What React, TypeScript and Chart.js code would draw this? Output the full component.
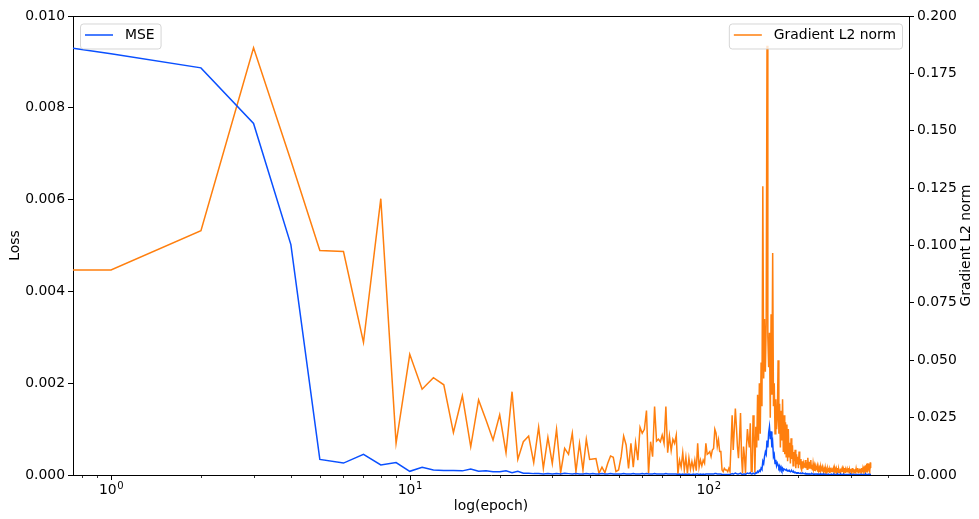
import React, { useEffect, useRef } from 'react';
import { Chart, registerables } from 'chart.js';

Chart.register(...registerables);

// Training loss per epoch (left axis)
const mseLoss = [
  0.00930, 0.00918, 0.00887, 0.00766, 0.00502, 0.00034, 0.00026, 0.00045, 0.00022, 0.00027,
  0.00008, 0.00017, 0.00011, 0.00010, 0.00010, 0.00009, 0.00013, 0.00008, 0.00009, 0.00007,
  0.00007, 0.00009, 0.00005, 0.00008, 0.00004, 0.00004, 0.00003, 0.00003, 0.00002, 0.00003,
  0.00002, 0.00003, 0.00002, 0.00004, 0.00003, 0.00002, 0.00003, 0.00002, 0.00002, 0.00003,
  0.00002, 0.00003, 0.00002, 0.00002, 0.00003, 0.00002, 0.00002, 0.00003, 0.00002, 0.00002,
  0.00002, 0.00002, 0.00003, 0.00002, 0.00002, 0.00002, 0.00003, 0.00002, 0.00002, 0.00002,
  0.00003, 0.00002, 0.00003, 0.00002, 0.00002, 0.00002, 0.00003, 0.00002, 0.00002, 0.00002,
  0.00002, 0.00002, 0.00003, 0.00002, 0.00002, 0.00002, 0.00002, 0.00002, 0.00002, 0.00001,
  0.00002, 0.00001, 0.00002, 0.00001, 0.00002, 0.00001, 0.00002, 0.00001, 0.00001, 0.00002,
  0.00001, 0.00002, 0.00002, 0.00001, 0.00002, 0.00001, 0.00002, 0.00001, 0.00002, 0.00002,
  0.00002, 0.00002, 0.00002, 0.00002, 0.00002, 0.00003, 0.00003, 0.00002, 0.00002, 0.00002,
  0.00002, 0.00001, 0.00001, 0.00001, 0.00001, 0.00001, 0.00001, 0.00001, 0.00001, 0.00002,
  0.00003, 0.00002, 0.00003, 0.00004, 0.00003, 0.00002, 0.00002, 0.00003, 0.00004, 0.00002,
  0.00001, 0.00002, 0.00002, 0.00001, 0.00003, 0.00004, 0.00003, 0.00003, 0.00005, 0.00002,
  0.00002, 0.00004, 0.00004, 0.00002, 0.00005, 0.00004, 0.00008, 0.00006, 0.00010, 0.00008,
  0.00015, 0.00012, 0.00030, 0.00025, 0.00040, 0.00050, 0.00045, 0.00075, 0.00060, 0.00092,
  0.00105, 0.00078, 0.00095, 0.00060, 0.00070, 0.00040, 0.00045, 0.00025, 0.00033, 0.00020,
  0.00026, 0.00022, 0.00016, 0.00020, 0.00012, 0.00017, 0.00011, 0.00015, 0.00010, 0.00013,
  0.00012, 0.00011, 0.00010, 0.00011, 0.00009, 0.00010, 0.00008, 0.00009, 0.00007, 0.00008,
  0.00009, 0.00007, 0.00006, 0.00007, 0.00005, 0.00006, 0.00005, 0.00005, 0.00004, 0.00005,
  0.00005, 0.00004, 0.00004, 0.00003, 0.00004, 0.00003, 0.00003, 0.00004, 0.00003, 0.00003,
  0.00003, 0.00002, 0.00003, 0.00002, 0.00003, 0.00002, 0.00002, 0.00003, 0.00002, 0.00002,
  0.00002, 0.00002, 0.00003, 0.00002, 0.00002, 0.00002, 0.00001, 0.00002, 0.00002, 0.00002,
  0.00002, 0.00001, 0.00002, 0.00002, 0.00001, 0.00002, 0.00002, 0.00001, 0.00002, 0.00001,
  0.00002, 0.00001, 0.00001, 0.00002, 0.00001, 0.00001, 0.00002, 0.00001, 0.00001, 0.00001,
  0.00001, 0.00001, 0.00002, 0.00001, 0.00001, 0.00001, 0.00001, 0.00001, 0.00002, 0.00001,
  0.00001, 0.00001, 0.00001, 0.00002, 0.00001, 0.00001, 0.00001, 0.00001, 0.00001, 0.00001,
  0.00001, 0.00002, 0.00001, 0.00001, 0.00001, 0.00001, 0.00001, 0.00002, 0.00001, 0.00001,
  0.00001, 0.00001, 0.00001, 0.00001, 0.00002, 0.00001, 0.00001, 0.00001, 0.00001, 0.00001,
  0.00001, 0.00001, 0.00002, 0.00001, 0.00001, 0.00001, 0.00001, 0.00001, 0.00001, 0.00002,
  0.00001, 0.00001, 0.00001, 0.00001, 0.00001, 0.00002, 0.00001, 0.00001, 0.00001, 0.00001,
  0.00001, 0.00001, 0.00001, 0.00002, 0.00001, 0.00001, 0.00001, 0.00001, 0.00001, 0.00001,
  0.00001, 0.00001, 0.00001, 0.00001, 0.00002, 0.00001, 0.00001, 0.00001, 0.00001, 0.00001,
  0.00002, 0.00001, 0.00001, 0.00001, 0.00001, 0.00001, 0.00002, 0.00001, 0.00001, 0.00001,
  0.00001, 0.00001, 0.00001, 0.00001, 0.00001, 0.00002, 0.00001, 0.00001, 0.00001, 0.00001,
  0.00001,
];

// L2 norm of the gradient per epoch (right axis)
const gradNorm = [
  0.0893, 0.0893, 0.1064, 0.1862, 0.1370, 0.0978, 0.0974, 0.0578, 0.1204, 0.0138,
  0.0526, 0.0374, 0.0424, 0.0393, 0.0185, 0.0345, 0.0123, 0.0327, 0.0240, 0.0153,
  0.0262, 0.0097, 0.0363, 0.0068, 0.0145, 0.0170, 0.0054, 0.0208, 0.0029, 0.0164,
  0.0050, 0.0199, 0.0010, 0.0116, 0.0090, 0.0182, 0.0015, 0.0138, 0.0022, 0.0156,
  0.0068, 0.0070, 0.0072, 0.0007, 0.0034, 0.0010, 0.0051, 0.0083, 0.0077, 0.0015,
  0.0022, 0.0080, 0.0170, 0.0131, 0.0029, 0.0138, 0.0034, 0.0141, 0.0065, 0.0208,
  0.0182, 0.0199, 0.0281, 0.0007, 0.0145, 0.0080, 0.0298, 0.0148, 0.0156, 0.0145,
  0.0174, 0.0138, 0.0298, 0.0097, 0.0170, 0.0106, 0.0156, 0.0138, 0.0174, 0.0005,
  0.0065, 0.0034, 0.0097, 0.0022, 0.0077, 0.0007, 0.0073, 0.0025, 0.0058, 0.0025,
  0.0065, 0.0019, 0.0138, 0.0034, 0.0065, 0.0040, 0.0065, 0.0051, 0.0138, 0.0090,
  0.0095, 0.0102, 0.0080, 0.0109, 0.0116, 0.0199, 0.0182, 0.0124, 0.0153, 0.0102,
  0.0102, 0.0022, 0.0015, 0.0029, 0.0022, 0.0022, 0.0015, 0.0029, 0.0015, 0.0138,
  0.0260, 0.0109, 0.0196, 0.0290, 0.0211, 0.0124, 0.0073, 0.0160, 0.0270, 0.0080,
  0.0007, 0.0124, 0.0080, 0.0007, 0.0124, 0.0200, 0.0153, 0.0120, 0.0225, 0.0015,
  0.0015, 0.0260, 0.0180, 0.0010, 0.0210, 0.0120, 0.0350, 0.0150, 0.0400, 0.0180,
  0.0490, 0.0300, 0.1258, 0.0420, 0.0680, 0.0450, 0.0660, 0.1870, 0.0600, 0.0470,
  0.0620, 0.0250, 0.0700, 0.0350, 0.0967, 0.0300, 0.0400, 0.0180, 0.0330, 0.0200,
  0.0250, 0.0500, 0.0180, 0.0310, 0.0120, 0.0280, 0.0150, 0.0330, 0.0100, 0.0260,
  0.0090, 0.0230, 0.0080, 0.0220, 0.0060, 0.0200, 0.0080, 0.0140, 0.0050, 0.0160,
  0.0070, 0.0130, 0.0040, 0.0100, 0.0060, 0.0110, 0.0030, 0.0090, 0.0050, 0.0080,
  0.0030, 0.0102, 0.0045, 0.0070, 0.0030, 0.0022, 0.0060, 0.0028, 0.0050, 0.0035,
  0.0036, 0.0065, 0.0030, 0.0055, 0.0025, 0.0075, 0.0040, 0.0030, 0.0058, 0.0032,
  0.0065, 0.0028, 0.0045, 0.0020, 0.0050, 0.0030, 0.0042, 0.0018, 0.0038, 0.0025,
  0.0029, 0.0040, 0.0015, 0.0035, 0.0022, 0.0030, 0.0012, 0.0036, 0.0020, 0.0028,
  0.0036, 0.0015, 0.0030, 0.0020, 0.0026, 0.0012, 0.0032, 0.0018, 0.0025, 0.0010,
  0.0015, 0.0028, 0.0020, 0.0030, 0.0012, 0.0025, 0.0018, 0.0032, 0.0015, 0.0022,
  0.0025, 0.0012, 0.0028, 0.0018, 0.0030, 0.0010, 0.0024, 0.0016, 0.0027, 0.0014,
  0.0022, 0.0030, 0.0012, 0.0026, 0.0018, 0.0024, 0.0010, 0.0028, 0.0016, 0.0022,
  0.0029, 0.0014, 0.0024, 0.0010, 0.0026, 0.0018, 0.0030, 0.0012, 0.0022, 0.0016,
  0.0022, 0.0028, 0.0012, 0.0025, 0.0016, 0.0030, 0.0010, 0.0024, 0.0018, 0.0026,
  0.0015, 0.0028, 0.0012, 0.0022, 0.0030, 0.0014, 0.0026, 0.0010, 0.0024, 0.0018,
  0.0022, 0.0016, 0.0028, 0.0012, 0.0025, 0.0019, 0.0030, 0.0011, 0.0024, 0.0017,
  0.0022, 0.0028, 0.0014, 0.0026, 0.0010, 0.0030, 0.0018, 0.0024, 0.0012, 0.0028,
  0.0036, 0.0016, 0.0030, 0.0020, 0.0038, 0.0014, 0.0042, 0.0022, 0.0048, 0.0018,
  0.0051, 0.0012, 0.0045, 0.0020, 0.0050, 0.0025, 0.0040, 0.0015, 0.0055, 0.0030,
  0.0029,
];

// Epoch index for each entry; epoch 0 sits at the left edge of the log axis
const epochs = mseLoss.map((_, i) => i);

// Axis ranges and ticks
const xRange = [0.746, 469];
const xMajorTicks = [1, 10, 100];
const xMajorExponents = ['0', '1', '2'];
const xMinorTicks = [0.8, 0.9, 2, 3, 4, 5, 6, 7, 8, 9, 20, 30, 40, 50, 60, 70, 80, 90, 200, 300, 400];
const lossRange = [0, 0.01];
const lossStep = 0.002;
const gradRange = [0, 0.2];
const gradStep = 0.025;

const BLUE = '#0a50ff';
const ORANGE = '#ff7f0e';
const FONT = 'DejaVu Sans';
const FS = 13.9;

function drawLegend(ctx: CanvasRenderingContext2D, x: number, y: number, color: string, label: string, anchorRight: boolean) {
  ctx.font = `${FS}px "${FONT}"`;
  const tw = ctx.measureText(label).width;
  const w = 45 + tw + 6;
  const h = 25;
  const left = anchorRight ? x - w : x;
  ctx.save();
  ctx.beginPath();
  ctx.roundRect(left + 0.5, y + 0.5, w, h, 3);
  ctx.fillStyle = 'rgba(255,255,255,0.8)';
  ctx.fill();
  ctx.strokeStyle = 'rgba(204,204,204,0.8)';
  ctx.lineWidth = 1;
  ctx.stroke();
  const cy = y + 11.5;
  ctx.beginPath();
  ctx.moveTo(left + 5, cy);
  ctx.lineTo(left + 33, cy);
  ctx.strokeStyle = color;
  ctx.lineWidth = 1.5;
  ctx.stroke();
  ctx.fillStyle = '#000';
  ctx.textAlign = 'left';
  ctx.textBaseline = 'middle';
  ctx.fillText(label, left + 45, cy + 0.5);
  ctx.restore();
}

const axesDecor = {
  id: 'axesDecor',
  afterDraw(chart: any) {
    const { ctx, chartArea: ca, scales } = chart;
    const xs = scales.x;
    ctx.save();
    ctx.strokeStyle = '#000';
    // top spine
    ctx.lineWidth = 1;
    ctx.beginPath();
    const ty = Math.round(ca.top) + 0.5;
    ctx.moveTo(ca.left, ty);
    ctx.lineTo(ca.right, ty);
    ctx.stroke();
    // x major ticks
    ctx.beginPath();
    for (const v of xMajorTicks) {
      const px = Math.round(xs.getPixelForValue(v)) + 0.5;
      ctx.moveTo(px, ca.bottom);
      ctx.lineTo(px, ca.bottom + 5);
    }
    ctx.stroke();
    // x minor ticks
    ctx.lineWidth = 0.8;
    ctx.beginPath();
    for (const v of xMinorTicks) {
      const px = Math.round(xs.getPixelForValue(v)) + 0.5;
      ctx.moveTo(px, ca.bottom);
      ctx.lineTo(px, ca.bottom + 3);
    }
    ctx.stroke();
    // x tick labels as powers of ten
    ctx.fillStyle = '#000';
    ctx.textAlign = 'left';
    ctx.textBaseline = 'alphabetic';
    xMajorTicks.forEach((v, i) => {
      const px = xs.getPixelForValue(v);
      ctx.font = `${FS}px "${FONT}"`;
      const w1 = ctx.measureText('10').width;
      ctx.font = `${FS * 0.72}px "${FONT}"`;
      const w2 = ctx.measureText(xMajorExponents[i]).width;
      const x0 = px - (w1 + w2) / 2;
      ctx.font = `${FS}px "${FONT}"`;
      ctx.fillText('10', x0, ca.bottom + 18.5);
      ctx.font = `${FS * 0.72}px "${FONT}"`;
      ctx.fillText(xMajorExponents[i], x0 + w1 + 0.5, ca.bottom + 13.5);
    });
    // axis titles
    ctx.font = `${FS}px "${FONT}"`;
    ctx.textAlign = 'center';
    ctx.textBaseline = 'middle';
    const midY = (ca.top + ca.bottom) / 2;
    ctx.fillText('log(epoch)', (ca.left + ca.right) / 2, ca.bottom + 31);
    ctx.save();
    ctx.translate(15, midY);
    ctx.rotate(-Math.PI / 2);
    ctx.fillText('Loss', 0, 0);
    ctx.restore();
    ctx.save();
    ctx.translate(966, midY);
    ctx.rotate(-Math.PI / 2);
    ctx.fillText('Gradient L2 norm', 0, 0);
    ctx.restore();
    ctx.restore();
    // legends
    drawLegend(ctx, ca.left + 7, ca.top + 7.5, BLUE, 'MSE', false);
    drawLegend(ctx, ca.right - 7, ca.top + 7.5, ORANGE, 'Gradient L2 norm', true);
  },
};

export default function App() {
  const canvasRef = useRef<HTMLCanvasElement | null>(null);

  useEffect(() => {
    const canvas = canvasRef.current;
    if (!canvas) return;
    Chart.defaults.font.family = FONT;
    Chart.defaults.font.size = FS;
    Chart.defaults.color = '#000';

    const chart = new Chart(canvas, {
      type: 'line',
      data: {
        datasets: [
          {
            label: 'MSE',
            data: epochs.map((e, i) => ({ x: e, y: mseLoss[i] })),
            borderColor: BLUE,
            borderWidth: 1.5,
            pointRadius: 0,
            tension: 0,
            yAxisID: 'y',
          },
          {
            label: 'Gradient L2 norm',
            data: epochs.map((e, i) => ({ x: e, y: gradNorm[i] })),
            borderColor: ORANGE,
            borderWidth: 1.5,
            pointRadius: 0,
            tension: 0,
            yAxisID: 'y1',
          },
        ],
      },
      options: {
        responsive: false,
        animation: false,
        events: [],
        layout: { padding: { top: 16, left: 0, right: 0, bottom: 0 } },
        plugins: {
          legend: { display: false },
          tooltip: { enabled: false },
        },
        scales: {
          x: {
            type: 'logarithmic',
            position: 'bottom',
            bounds: 'data',
            min: xRange[0],
            max: xRange[1],
            grid: { display: false },
            border: { display: true, color: '#000', width: 1 },
            ticks: { display: false },
            afterFit: (s: any) => {
              s.height = 44;
              s.paddingLeft = 0;
              s.paddingRight = 0;
            },
          },
          y: {
            type: 'linear',
            position: 'left',
            min: lossRange[0],
            max: lossRange[1],
            grid: { drawOnChartArea: false, drawTicks: true, tickLength: 5, color: '#000', lineWidth: 1 },
            border: { display: true, color: '#000', width: 1 },
            ticks: {
              stepSize: lossStep,
              padding: 3,
              callback: (v: any) => Number(v).toFixed(3),
            },
            afterFit: (s: any) => {
              s.width = 73;
              s.paddingTop = 0;
              s.paddingBottom = 0;
            },
          },
          y1: {
            type: 'linear',
            position: 'right',
            min: gradRange[0],
            max: gradRange[1],
            grid: { drawOnChartArea: false, drawTicks: true, tickLength: 5, color: '#000', lineWidth: 1 },
            border: { display: true, color: '#000', width: 1 },
            ticks: {
              stepSize: gradStep,
              padding: 3,
              callback: (v: any) => Number(v).toFixed(3),
            },
            afterFit: (s: any) => {
              s.width = 70;
              s.paddingTop = 0;
              s.paddingBottom = 0;
            },
          },
        },
      },
      plugins: [axesDecor],
    });
    return () => chart.destroy();
  }, []);

  return (
    <div style={{ position: 'fixed', left: 0, top: 0, width: 979, height: 519, background: '#fff' }}>
      <canvas ref={canvasRef} width={979} height={519} />
    </div>
  );
}
